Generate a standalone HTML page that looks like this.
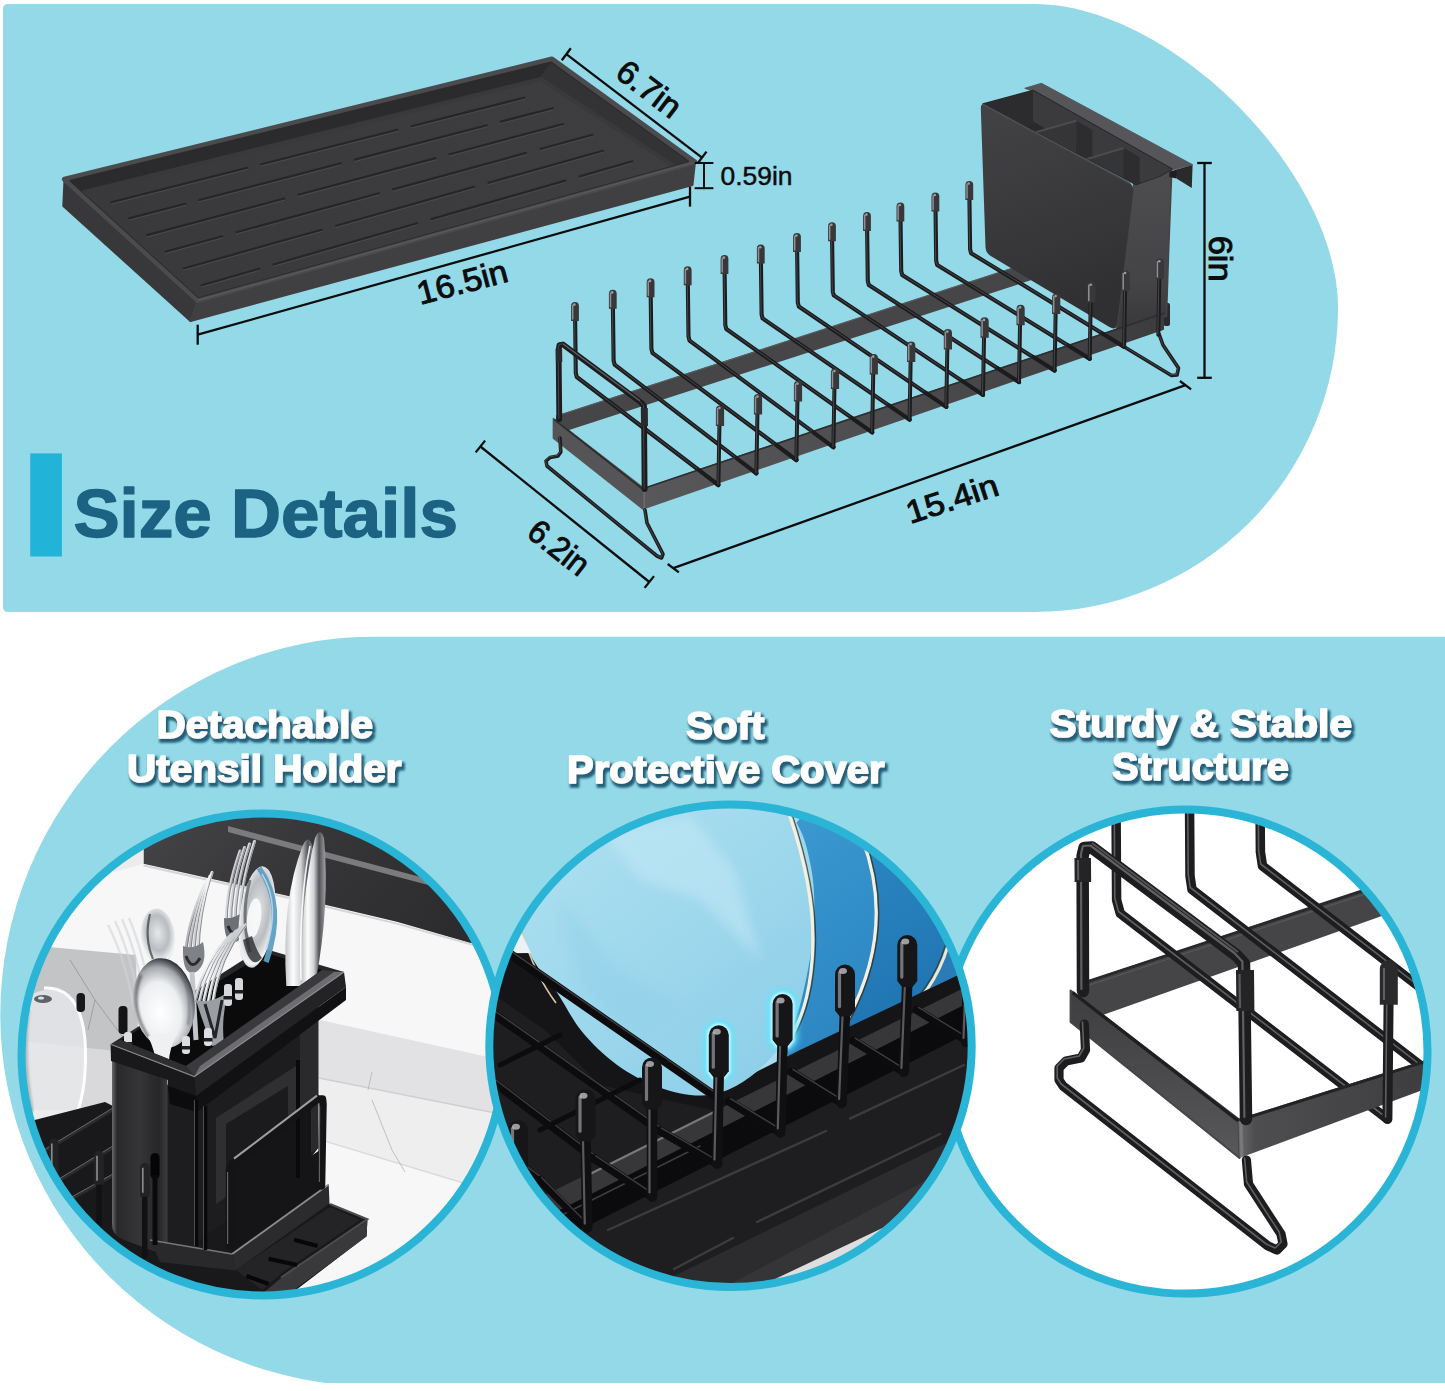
<!DOCTYPE html>
<html lang="en"><head><meta charset="utf-8"><title>Size Details</title>
<style>html,body{margin:0;padding:0;background:#fff}svg{display:block}text{font-family:"Liberation Sans",sans-serif}</style>
</head><body>
<svg width="1445" height="1391" viewBox="0 0 1445 1391">
<defs>
<clipPath id="bp"><rect x="0" y="636.5" width="1445" height="746.5"/></clipPath>
<clipPath id="trayin"><polygon points="70.5,180.8 551,62.5 688,161.3 198.5,297.3"/></clipPath>
<linearGradient id="trayfl" x1="0" y1="0" x2="1" y2="0"><stop offset="0" stop-color="#39393b"/><stop offset="1" stop-color="#3e3e40"/></linearGradient>
<linearGradient id="hface" x1="0" y1="0" x2="0.25" y2="1"><stop offset="0" stop-color="#434345"/><stop offset="0.5" stop-color="#3a3a3c"/><stop offset="1" stop-color="#303032"/></linearGradient>
<linearGradient id="hside" x1="0" y1="0" x2="0" y2="1"><stop offset="0" stop-color="#4d4d4f"/><stop offset="0.7" stop-color="#444446"/><stop offset="1" stop-color="#38383a"/></linearGradient>
<clipPath id="hin"><polygon points="983,104 1033,90.5 1171.8,169 1160,176 1136,184.5"/></clipPath>
<linearGradient id="fband" x1="0" y1="0" x2="1" y2="0"><stop offset="0" stop-color="#58585a"/><stop offset="0.5" stop-color="#4c4c4e"/><stop offset="1" stop-color="#3c3c3e"/></linearGradient>
<filter id="ts" x="-5%" y="-25%" width="110%" height="160%"><feMorphology operator="dilate" radius="0.5" in="SourceAlpha" result="d"/><feGaussianBlur in="d" stdDeviation="1" result="b"/><feOffset in="b" dx="2.2" dy="2.9" result="o"/><feFlood flood-color="#1c5873" flood-opacity="0.95"/><feComposite in2="o" operator="in" result="sh"/><feMerge><feMergeNode in="sh"/><feMergeNode in="SourceGraphic"/></feMerge></filter>
<clipPath id="cc1"><circle cx="262.5" cy="1054.5" r="241.0"/></clipPath>
<filter id="b3" x="-20%" y="-20%" width="140%" height="140%"><feGaussianBlur stdDeviation="3"/></filter>
<filter id="b1" x="-20%" y="-20%" width="140%" height="140%"><feGaussianBlur stdDeviation="1.1"/></filter>
<linearGradient id="c1top" x1="0" y1="0" x2="0" y2="1"><stop offset="0" stop-color="#d4d4d6"/><stop offset="1" stop-color="#6f6f72"/></linearGradient>
<linearGradient id="c1dark" x1="0" y1="0" x2="1" y2="0.4"><stop offset="0" stop-color="#464648"/><stop offset="0.5" stop-color="#363638"/><stop offset="1" stop-color="#2c2c2e"/></linearGradient>
<linearGradient id="chrome" gradientUnits="userSpaceOnUse" x1="180" y1="0" x2="270" y2="0"><stop offset="0" stop-color="#9a9da2"/><stop offset="0.3" stop-color="#f4f5f6"/><stop offset="0.6" stop-color="#c9ccd0"/><stop offset="1" stop-color="#eceef0"/></linearGradient>
<radialGradient id="spoon" cx="0.42" cy="0.6" r="0.62"><stop offset="0" stop-color="#ffffff"/><stop offset="0.55" stop-color="#eceef0"/><stop offset="0.82" stop-color="#a4a7ac"/><stop offset="1" stop-color="#2e3034"/></radialGradient>
<radialGradient id="spoon2" cx="0.5" cy="0.45" r="0.65"><stop offset="0" stop-color="#e6e8ea"/><stop offset="0.5" stop-color="#b9bcc0"/><stop offset="0.8" stop-color="#f2f3f4"/><stop offset="1" stop-color="#3a3c40"/></radialGradient>
<linearGradient id="knife" x1="0" y1="0" x2="1" y2="0"><stop offset="0" stop-color="#c4c6c9"/><stop offset="0.25" stop-color="#fdfdfd"/><stop offset="0.5" stop-color="#d0d2d5"/><stop offset="0.72" stop-color="#505256"/><stop offset="1" stop-color="#a2a4a8"/></linearGradient>
<linearGradient id="hbody" x1="0" y1="0" x2="1" y2="0"><stop offset="0" stop-color="#6a6a6e"/><stop offset="0.09" stop-color="#29292b"/><stop offset="0.5" stop-color="#353537"/><stop offset="0.85" stop-color="#262628"/><stop offset="1" stop-color="#3c3c3f"/></linearGradient>
<clipPath id="utc"><polygon points="0,780 520,780 520,960 322,970 186,1066 121,1040 0,1000"/></clipPath>
<clipPath id="cc3"><circle cx="1185.5" cy="1051.6" r="242.0"/></clipPath>
<linearGradient id="c3lb" x1="0" y1="0" x2="0" y2="1"><stop offset="0" stop-color="#3e3e40"/><stop offset="0.5" stop-color="#4a4a4c"/><stop offset="1" stop-color="#58585a"/></linearGradient>
<linearGradient id="c3fb" x1="0" y1="0" x2="1" y2="0"><stop offset="0" stop-color="#6a6a6d"/><stop offset="0.08" stop-color="#4e4e50"/><stop offset="1" stop-color="#3c3c3e"/></linearGradient>
<clipPath id="cc2"><circle cx="730.5" cy="1045.8" r="241.2"/></clipPath>
<filter id="glow" x="-60%" y="-60%" width="220%" height="220%"><feGaussianBlur stdDeviation="3.2"/></filter>
<filter id="glow2" x="-60%" y="-60%" width="220%" height="220%"><feGaussianBlur stdDeviation="1.2"/></filter>
<filter id="soft" x="-20%" y="-20%" width="140%" height="140%"><feGaussianBlur stdDeviation="6"/></filter>
<linearGradient id="pl1" x1="0.1" y1="0" x2="0.8" y2="1"><stop offset="0" stop-color="#b4e2f1"/><stop offset="0.45" stop-color="#a3daee"/><stop offset="1" stop-color="#8dcfe8"/></linearGradient>
<linearGradient id="pl2" x1="0" y1="0" x2="0.3" y2="1"><stop offset="0" stop-color="#3f9bd2"/><stop offset="1" stop-color="#2b86c2"/></linearGradient>
<linearGradient id="pl3" x1="0" y1="0" x2="0.3" y2="1"><stop offset="0" stop-color="#2f8cc8"/><stop offset="1" stop-color="#1f74b0"/></linearGradient>
</defs>
<rect width="1445" height="1391" fill="#fff"/>
<path d="M8,4 H1034 C1170,4 1338,172 1338,308 A304,304 0 0 1 1034,612 H8 Q3,612 3,607 V9 Q3,4 8,4 Z" fill="#93d9e8"/>
<g clip-path="url(#bp)"><path d="M375.8,636.5 A375.5,378.3 0 0 0 0.3,1014.8 A375.5,371.5 0 0 0 375.8,1386.3 L1445,1386.3 L1445,636.5 Z" fill="#93d9e8"/></g>
<path d="M64.5,179.3 L197.7,300.4 L190.5,321 L63.3,206 Z" fill="#38383a" stroke="#38383a" stroke-width="2" stroke-linejoin="round"/>
<path d="M197.7,300.4 L695,162 L692.5,185 L190.5,321 Z" fill="#404042" stroke="#404042" stroke-width="2" stroke-linejoin="round"/>
<polygon points="64.5,179.3 552,59 695,162 197.7,300.4" fill="#4b4b4d" stroke="#4b4b4d" stroke-width="5" stroke-linejoin="round"/>
<polygon points="70.5,180.8 551,62.5 688,161.3 198.5,297.3" fill="#2b2b2d" stroke="#2b2b2d" stroke-width="2" stroke-linejoin="round"/>
<g clip-path="url(#trayin)">
<polygon points="551,62.5 688,161.3 676,171.3 539,78.5" fill="#333335"/>
<polygon points="73.5,194.8 541,79 679,169.3 198.5,311.3" fill="url(#trayfl)" stroke="#39393b" stroke-width="4" stroke-linejoin="round"/>
<line x1="111.3" y1="203.9" x2="247.3" y2="169.4" stroke="#4a4a4c" stroke-width="1.4" stroke-linecap="round"/>
<line x1="111.3" y1="202.3" x2="247.3" y2="167.8" stroke="#262628" stroke-width="2.2" stroke-linecap="round"/>
<line x1="261.4" y1="165.8" x2="397.4" y2="131.4" stroke="#4a4a4c" stroke-width="1.4" stroke-linecap="round"/>
<line x1="261.4" y1="164.2" x2="397.4" y2="129.8" stroke="#262628" stroke-width="2.2" stroke-linecap="round"/>
<line x1="411.5" y1="127.8" x2="524" y2="99.3" stroke="#4a4a4c" stroke-width="1.4" stroke-linecap="round"/>
<line x1="411.5" y1="126.2" x2="524" y2="97.7" stroke="#262628" stroke-width="2.2" stroke-linecap="round"/>
<line x1="128.9" y1="220" x2="185.4" y2="205.3" stroke="#4a4a4c" stroke-width="1.4" stroke-linecap="round"/>
<line x1="128.9" y1="218.4" x2="185.4" y2="203.7" stroke="#262628" stroke-width="2.2" stroke-linecap="round"/>
<line x1="199.5" y1="201.6" x2="340.8" y2="164.9" stroke="#4a4a4c" stroke-width="1.4" stroke-linecap="round"/>
<line x1="199.5" y1="200" x2="340.8" y2="163.3" stroke="#262628" stroke-width="2.2" stroke-linecap="round"/>
<line x1="354.9" y1="161.2" x2="486.7" y2="126.9" stroke="#4a4a4c" stroke-width="1.4" stroke-linecap="round"/>
<line x1="354.9" y1="159.6" x2="486.7" y2="125.3" stroke="#262628" stroke-width="2.2" stroke-linecap="round"/>
<line x1="500.9" y1="123.2" x2="552.6" y2="109.8" stroke="#4a4a4c" stroke-width="1.4" stroke-linecap="round"/>
<line x1="500.9" y1="121.6" x2="552.6" y2="108.2" stroke="#262628" stroke-width="2.2" stroke-linecap="round"/>
<line x1="147.1" y1="236.7" x2="284.2" y2="200.1" stroke="#4a4a4c" stroke-width="1.4" stroke-linecap="round"/>
<line x1="147.1" y1="235.1" x2="284.2" y2="198.5" stroke="#262628" stroke-width="2.2" stroke-linecap="round"/>
<line x1="298.4" y1="196.3" x2="435.5" y2="159.7" stroke="#4a4a4c" stroke-width="1.4" stroke-linecap="round"/>
<line x1="298.4" y1="194.7" x2="435.5" y2="158.1" stroke="#262628" stroke-width="2.2" stroke-linecap="round"/>
<line x1="449.7" y1="155.9" x2="563.1" y2="125.6" stroke="#4a4a4c" stroke-width="1.4" stroke-linecap="round"/>
<line x1="449.7" y1="154.3" x2="563.1" y2="124" stroke="#262628" stroke-width="2.2" stroke-linecap="round"/>
<line x1="165.4" y1="253.4" x2="222.3" y2="237.8" stroke="#4a4a4c" stroke-width="1.4" stroke-linecap="round"/>
<line x1="165.4" y1="251.8" x2="222.3" y2="236.2" stroke="#262628" stroke-width="2.2" stroke-linecap="round"/>
<line x1="236.5" y1="233.9" x2="378.9" y2="194.9" stroke="#4a4a4c" stroke-width="1.4" stroke-linecap="round"/>
<line x1="236.5" y1="232.3" x2="378.9" y2="193.3" stroke="#262628" stroke-width="2.2" stroke-linecap="round"/>
<line x1="393.2" y1="191" x2="526" y2="154.5" stroke="#4a4a4c" stroke-width="1.4" stroke-linecap="round"/>
<line x1="393.2" y1="189.4" x2="526" y2="152.9" stroke="#262628" stroke-width="2.2" stroke-linecap="round"/>
<line x1="540.3" y1="150.6" x2="592.5" y2="136.3" stroke="#4a4a4c" stroke-width="1.4" stroke-linecap="round"/>
<line x1="540.3" y1="149" x2="592.5" y2="134.7" stroke="#262628" stroke-width="2.2" stroke-linecap="round"/>
<line x1="183.6" y1="270.1" x2="321.7" y2="231.3" stroke="#4a4a4c" stroke-width="1.4" stroke-linecap="round"/>
<line x1="183.6" y1="268.5" x2="321.7" y2="229.7" stroke="#262628" stroke-width="2.2" stroke-linecap="round"/>
<line x1="336" y1="227.3" x2="474.2" y2="188.4" stroke="#4a4a4c" stroke-width="1.4" stroke-linecap="round"/>
<line x1="336" y1="225.7" x2="474.2" y2="186.8" stroke="#262628" stroke-width="2.2" stroke-linecap="round"/>
<line x1="488.5" y1="184.4" x2="602.9" y2="152.3" stroke="#4a4a4c" stroke-width="1.4" stroke-linecap="round"/>
<line x1="488.5" y1="182.8" x2="602.9" y2="150.7" stroke="#262628" stroke-width="2.2" stroke-linecap="round"/>
<line x1="201.8" y1="286.8" x2="259.2" y2="270.3" stroke="#4a4a4c" stroke-width="1.4" stroke-linecap="round"/>
<line x1="201.8" y1="285.2" x2="259.2" y2="268.7" stroke="#262628" stroke-width="2.2" stroke-linecap="round"/>
<line x1="273.5" y1="266.1" x2="417.1" y2="224.8" stroke="#4a4a4c" stroke-width="1.4" stroke-linecap="round"/>
<line x1="273.5" y1="264.5" x2="417.1" y2="223.2" stroke="#262628" stroke-width="2.2" stroke-linecap="round"/>
<line x1="431.4" y1="220.7" x2="565.3" y2="182.2" stroke="#4a4a4c" stroke-width="1.4" stroke-linecap="round"/>
<line x1="431.4" y1="219.1" x2="565.3" y2="180.6" stroke="#262628" stroke-width="2.2" stroke-linecap="round"/>
<line x1="579.7" y1="178" x2="632.3" y2="162.9" stroke="#4a4a4c" stroke-width="1.4" stroke-linecap="round"/>
<line x1="579.7" y1="176.4" x2="632.3" y2="161.3" stroke="#262628" stroke-width="2.2" stroke-linecap="round"/>
</g>
<polyline points="197.7,300.4 695,162" fill="none" stroke="#5a5a5c" stroke-width="1.2"/>
<polygon points="556,415.8 1050,255.5 1050,274 556,434.3" fill="#464547"/>
<line x1="556" y1="416.3" x2="1050" y2="256" stroke="#5a5a5c" stroke-width="1.2"/>
<polyline points="1159,334 1163,345 1178.5,368 1177,375 1171.5,375.5 1122,345.5" fill="none" stroke="#1c1c1e" stroke-width="3.6" stroke-linejoin="round" stroke-linecap="round"/>
<polyline points="1158.5,333.4 1162.5,344.4 1178,367.4 1176.5,374.4 1171,374.9 1121.5,344.9" fill="none" stroke="#7d7d80" stroke-width="0.9" stroke-linejoin="round" stroke-linecap="round" opacity="0.5"/>
<rect x="1163.5" y="303" width="6.5" height="23" rx="2" fill="#2a2a2c"/>
<polygon points="1133.6,184.6 1171.8,170 1168.5,255 1166.5,316 1150,322 1116.4,331.2" fill="url(#hside)" stroke="#444446" stroke-width="1.5" stroke-linejoin="round"/>
<polygon points="1175,170 1192.6,164.7 1191.8,188 1176.5,178.5" fill="#2a2a2c"/>
<polygon points="1169.5,172 1176.5,169.5 1176.5,178.5 1169.3,177" fill="#1e1e20"/>
<polygon points="1024.8,88.3 1041.4,83.3 1192.6,164.7 1171.8,170 1033,91" fill="#56565a" stroke="#56565a" stroke-width="1" stroke-linejoin="round"/>
<polygon points="983,104 1033,90.5 1171.8,169 1160,176 1136,184.5" fill="#29292b" stroke="#29292b" stroke-width="1.5" stroke-linejoin="round"/>
<g clip-path="url(#hin)">
<polygon points="1033,90.5 1171.8,169 1171.8,200 1033,121.5" fill="#3b3b3d"/>
<polygon points="983,104 1033,90.5 1033,125 983,138.5" fill="#2c2c2e"/>
<polygon points="1035.6,132.3 1076.3,120.7 1076.3,162.7 1035.6,174.3" fill="#353537"/>
<polygon points="1076.3,120.7 1092.3,130 1092.3,170.7 1076.3,162.7" fill="#2d2d2f"/>
<line x1="1035.6" y1="132.3" x2="1076.3" y2="120.7" stroke="#4c4c4e" stroke-width="2"/>
<polygon points="1084.6,159.7 1123.7,148 1123.7,190 1084.6,201.7" fill="#353537"/>
<polygon points="1123.7,148 1139.7,157.3 1139.7,198 1123.7,190" fill="#2d2d2f"/>
<line x1="1084.6" y1="159.7" x2="1123.7" y2="148" stroke="#4c4c4e" stroke-width="2"/>
</g>
<path d="M980.8,108.4 Q980.8,102.4 985.8,105.2 L1128.6,181.9 Q1133.6,184.6 1133.2,191.6 L1117.2,323.2 Q1116.4,331.2 1109.4,327 L990.7,256 Q985.7,253 985.5,247 Z" fill="url(#hface)"/>
<path d="M982.8,104.4 L1129.6,183.1" fill="none" stroke="#505052" stroke-width="1.2"/>
<polyline points="575,310 575.8,373 576.8,377 718.4,485" fill="none" stroke="#1c1c1e" stroke-width="4.1" stroke-linejoin="round" stroke-linecap="round"/>
<polyline points="574.5,309.4 575.3,372.4 576.3,376.4 717.9,484.4" fill="none" stroke="#7d7d80" stroke-width="0.9" stroke-linejoin="round" stroke-linecap="round" opacity="0.5"/>
<path d="M571.1,321 V305.9 A3.9,3.9 0 0 1 578.9,305.9 V321 Z" fill="#38383a"/>
<path d="M572.7,319 V305.2" stroke="#a0a0a4" stroke-width="1.5" stroke-linecap="round" fill="none" opacity="0.85"/>
<circle cx="574.4" cy="304.6" r="1.3" fill="#b5b5b8" opacity="0.8"/>
<polyline points="612.8,297.8 613.6,360.6 614.6,364.6 756.4,473.3" fill="none" stroke="#1c1c1e" stroke-width="4.1" stroke-linejoin="round" stroke-linecap="round"/>
<polyline points="612.3,297.2 613.1,359.9 614.1,363.9 755.9,472.7" fill="none" stroke="#7d7d80" stroke-width="0.9" stroke-linejoin="round" stroke-linecap="round" opacity="0.5"/>
<path d="M608.9,308.8 V293.7 A3.9,3.9 0 0 1 616.7,293.7 V308.8 Z" fill="#38383a"/>
<path d="M610.5,306.8 V293" stroke="#a0a0a4" stroke-width="1.5" stroke-linecap="round" fill="none" opacity="0.85"/>
<circle cx="612.2" cy="292.4" r="1.3" fill="#b5b5b8" opacity="0.8"/>
<polyline points="650.6,286.3 651.4,348.8 652.4,352.8 796.4,460" fill="none" stroke="#1c1c1e" stroke-width="4.1" stroke-linejoin="round" stroke-linecap="round"/>
<polyline points="650.1,285.7 650.9,348.2 651.9,352.2 795.9,459.4" fill="none" stroke="#7d7d80" stroke-width="0.9" stroke-linejoin="round" stroke-linecap="round" opacity="0.5"/>
<path d="M646.7,297.3 V282.2 A3.9,3.9 0 0 1 654.5,282.2 V297.3 Z" fill="#38383a"/>
<path d="M648.3,295.3 V281.5" stroke="#a0a0a4" stroke-width="1.5" stroke-linecap="round" fill="none" opacity="0.85"/>
<circle cx="650" cy="280.9" r="1.3" fill="#b5b5b8" opacity="0.8"/>
<polyline points="687.7,274.3 688.5,336.6 689.5,340.6 833.4,447.2" fill="none" stroke="#1c1c1e" stroke-width="4.1" stroke-linejoin="round" stroke-linecap="round"/>
<polyline points="687.2,273.7 688,335.9 689,339.9 832.9,446.6" fill="none" stroke="#7d7d80" stroke-width="0.9" stroke-linejoin="round" stroke-linecap="round" opacity="0.5"/>
<path d="M683.8,285.3 V270.2 A3.9,3.9 0 0 1 691.6,270.2 V285.3 Z" fill="#38383a"/>
<path d="M685.4,283.3 V269.5" stroke="#a0a0a4" stroke-width="1.5" stroke-linecap="round" fill="none" opacity="0.85"/>
<circle cx="687.1" cy="268.9" r="1.3" fill="#b5b5b8" opacity="0.8"/>
<polyline points="724.5,263 725.3,325 726.3,329 872.2,432.4" fill="none" stroke="#1c1c1e" stroke-width="4.1" stroke-linejoin="round" stroke-linecap="round"/>
<polyline points="724,262.4 724.8,324.4 725.8,328.4 871.7,431.8" fill="none" stroke="#7d7d80" stroke-width="0.9" stroke-linejoin="round" stroke-linecap="round" opacity="0.5"/>
<path d="M720.6,274 V258.9 A3.9,3.9 0 0 1 728.4,258.9 V274 Z" fill="#38383a"/>
<path d="M722.2,272 V258.2" stroke="#a0a0a4" stroke-width="1.5" stroke-linecap="round" fill="none" opacity="0.85"/>
<circle cx="723.9" cy="257.6" r="1.3" fill="#b5b5b8" opacity="0.8"/>
<polyline points="760.8,252.6 761.6,314.4 762.6,318.4 909.6,419.6" fill="none" stroke="#1c1c1e" stroke-width="4.1" stroke-linejoin="round" stroke-linecap="round"/>
<polyline points="760.3,252 761.1,313.8 762.1,317.8 909.1,419" fill="none" stroke="#7d7d80" stroke-width="0.9" stroke-linejoin="round" stroke-linecap="round" opacity="0.5"/>
<path d="M756.9,263.6 V248.5 A3.9,3.9 0 0 1 764.7,248.5 V263.6 Z" fill="#38383a"/>
<path d="M758.5,261.6 V247.8" stroke="#a0a0a4" stroke-width="1.5" stroke-linecap="round" fill="none" opacity="0.85"/>
<circle cx="760.2" cy="247.2" r="1.3" fill="#b5b5b8" opacity="0.8"/>
<polyline points="797,241 797.8,302.5 798.8,306.5 946.3,406.9" fill="none" stroke="#1c1c1e" stroke-width="4.1" stroke-linejoin="round" stroke-linecap="round"/>
<polyline points="796.5,240.4 797.3,301.9 798.3,305.9 945.8,406.2" fill="none" stroke="#7d7d80" stroke-width="0.9" stroke-linejoin="round" stroke-linecap="round" opacity="0.5"/>
<path d="M793.1,252 V236.9 A3.9,3.9 0 0 1 800.9,236.9 V252 Z" fill="#38383a"/>
<path d="M794.7,250 V236.2" stroke="#a0a0a4" stroke-width="1.5" stroke-linecap="round" fill="none" opacity="0.85"/>
<circle cx="796.4" cy="235.6" r="1.3" fill="#b5b5b8" opacity="0.8"/>
<polyline points="832,230.2 832.8,291.4 833.8,295.4 983,394.9" fill="none" stroke="#1c1c1e" stroke-width="4.1" stroke-linejoin="round" stroke-linecap="round"/>
<polyline points="831.5,229.6 832.3,290.8 833.3,294.8 982.5,394.3" fill="none" stroke="#7d7d80" stroke-width="0.9" stroke-linejoin="round" stroke-linecap="round" opacity="0.5"/>
<path d="M828.1,241.2 V226.1 A3.9,3.9 0 0 1 835.9,226.1 V241.2 Z" fill="#38383a"/>
<path d="M829.7,239.2 V225.4" stroke="#a0a0a4" stroke-width="1.5" stroke-linecap="round" fill="none" opacity="0.85"/>
<circle cx="831.4" cy="224.8" r="1.3" fill="#b5b5b8" opacity="0.8"/>
<polyline points="867,220 867.8,281 868.8,285 1019,382.1" fill="none" stroke="#1c1c1e" stroke-width="4.1" stroke-linejoin="round" stroke-linecap="round"/>
<polyline points="866.5,219.4 867.3,280.4 868.3,284.4 1018.5,381.5" fill="none" stroke="#7d7d80" stroke-width="0.9" stroke-linejoin="round" stroke-linecap="round" opacity="0.5"/>
<path d="M863.1,231 V215.9 A3.9,3.9 0 0 1 870.9,215.9 V231 Z" fill="#38383a"/>
<path d="M864.7,229 V215.2" stroke="#a0a0a4" stroke-width="1.5" stroke-linecap="round" fill="none" opacity="0.85"/>
<circle cx="866.4" cy="214.6" r="1.3" fill="#b5b5b8" opacity="0.8"/>
<polyline points="900.4,210.4 901.2,271.1 902.2,275.1 1054.6,370.5" fill="none" stroke="#1c1c1e" stroke-width="4.1" stroke-linejoin="round" stroke-linecap="round"/>
<polyline points="899.9,209.8 900.7,270.5 901.7,274.5 1054.1,369.9" fill="none" stroke="#7d7d80" stroke-width="0.9" stroke-linejoin="round" stroke-linecap="round" opacity="0.5"/>
<path d="M896.5,221.4 V206.3 A3.9,3.9 0 0 1 904.3,206.3 V221.4 Z" fill="#38383a"/>
<path d="M898.1,219.4 V205.6" stroke="#a0a0a4" stroke-width="1.5" stroke-linecap="round" fill="none" opacity="0.85"/>
<circle cx="899.8" cy="205" r="1.3" fill="#b5b5b8" opacity="0.8"/>
<polyline points="935.4,200.4 936.2,260.9 937.2,264.9 1089.7,358.8" fill="none" stroke="#1c1c1e" stroke-width="4.1" stroke-linejoin="round" stroke-linecap="round"/>
<polyline points="934.9,199.8 935.7,260.3 936.7,264.3 1089.2,358.2" fill="none" stroke="#7d7d80" stroke-width="0.9" stroke-linejoin="round" stroke-linecap="round" opacity="0.5"/>
<path d="M931.5,211.4 V196.3 A3.9,3.9 0 0 1 939.3,196.3 V211.4 Z" fill="#38383a"/>
<path d="M933.1,209.4 V195.6" stroke="#a0a0a4" stroke-width="1.5" stroke-linecap="round" fill="none" opacity="0.85"/>
<circle cx="934.8" cy="195" r="1.3" fill="#b5b5b8" opacity="0.8"/>
<polyline points="969.3,188.9 970.1,249.2 971.1,253.2 1124.1,346.8" fill="none" stroke="#1c1c1e" stroke-width="4.1" stroke-linejoin="round" stroke-linecap="round"/>
<polyline points="968.8,188.3 969.6,248.6 970.6,252.6 1123.6,346.2" fill="none" stroke="#7d7d80" stroke-width="0.9" stroke-linejoin="round" stroke-linecap="round" opacity="0.5"/>
<path d="M965.4,199.9 V184.8 A3.9,3.9 0 0 1 973.2,184.8 V199.9 Z" fill="#38383a"/>
<path d="M967,197.9 V184.1" stroke="#a0a0a4" stroke-width="1.5" stroke-linecap="round" fill="none" opacity="0.85"/>
<circle cx="968.7" cy="183.5" r="1.3" fill="#b5b5b8" opacity="0.8"/>
<polygon points="643.4,487.9 1164,312.7 1164,329.7 643.4,509.4" fill="url(#fband)"/>
<line x1="643.4" y1="488.5" x2="1164" y2="313.3" stroke="#2e2e30" stroke-width="1.6"/>
<polyline points="698.6,469.9 718.4,485" fill="none" stroke="#1c1c1e" stroke-width="4.1" stroke-linejoin="round" stroke-linecap="round"/>
<polyline points="718.4,485 719.6,415.4" fill="none" stroke="#1c1c1e" stroke-width="4.0" stroke-linejoin="round" stroke-linecap="round"/>
<polyline points="717.9,484.4 719.1,414.8" fill="none" stroke="#7d7d80" stroke-width="0.9" stroke-linejoin="round" stroke-linecap="round" opacity="0.5"/>
<path d="M715.9,425.9 V409.5 A4.1,4.1 0 0 1 724.1,409.5 V425.9 Z" fill="#38383a"/>
<path d="M717.5,423.9 V408.6" stroke="#a0a0a4" stroke-width="1.5" stroke-linecap="round" fill="none" opacity="0.85"/>
<circle cx="719.4" cy="408" r="1.3" fill="#b5b5b8" opacity="0.8"/>
<polyline points="736.5,458.1 756.4,473.3" fill="none" stroke="#1c1c1e" stroke-width="4.1" stroke-linejoin="round" stroke-linecap="round"/>
<polyline points="756.4,473.3 757.6,404" fill="none" stroke="#1c1c1e" stroke-width="4.0" stroke-linejoin="round" stroke-linecap="round"/>
<polyline points="755.9,472.7 757.1,403.4" fill="none" stroke="#7d7d80" stroke-width="0.9" stroke-linejoin="round" stroke-linecap="round" opacity="0.5"/>
<path d="M753.9,414.5 V398.1 A4.1,4.1 0 0 1 762.1,398.1 V414.5 Z" fill="#38383a"/>
<path d="M755.5,412.5 V397.2" stroke="#a0a0a4" stroke-width="1.5" stroke-linecap="round" fill="none" opacity="0.85"/>
<circle cx="757.4" cy="396.6" r="1.3" fill="#b5b5b8" opacity="0.8"/>
<polyline points="776.2,445 796.4,460" fill="none" stroke="#1c1c1e" stroke-width="4.1" stroke-linejoin="round" stroke-linecap="round"/>
<polyline points="796.4,460 797.6,391" fill="none" stroke="#1c1c1e" stroke-width="4.0" stroke-linejoin="round" stroke-linecap="round"/>
<polyline points="795.9,459.4 797.1,390.4" fill="none" stroke="#7d7d80" stroke-width="0.9" stroke-linejoin="round" stroke-linecap="round" opacity="0.5"/>
<path d="M793.9,401.5 V385.1 A4.1,4.1 0 0 1 802.1,385.1 V401.5 Z" fill="#38383a"/>
<path d="M795.5,399.5 V384.2" stroke="#a0a0a4" stroke-width="1.5" stroke-linecap="round" fill="none" opacity="0.85"/>
<circle cx="797.4" cy="383.6" r="1.3" fill="#b5b5b8" opacity="0.8"/>
<polyline points="813.3,432.3 833.4,447.2" fill="none" stroke="#1c1c1e" stroke-width="4.1" stroke-linejoin="round" stroke-linecap="round"/>
<polyline points="833.4,447.2 834.6,378.5" fill="none" stroke="#1c1c1e" stroke-width="4.0" stroke-linejoin="round" stroke-linecap="round"/>
<polyline points="832.9,446.6 834.1,377.9" fill="none" stroke="#7d7d80" stroke-width="0.9" stroke-linejoin="round" stroke-linecap="round" opacity="0.5"/>
<path d="M830.9,389 V372.6 A4.1,4.1 0 0 1 839.1,372.6 V389 Z" fill="#38383a"/>
<path d="M832.5,387 V371.7" stroke="#a0a0a4" stroke-width="1.5" stroke-linecap="round" fill="none" opacity="0.85"/>
<circle cx="834.4" cy="371.1" r="1.3" fill="#b5b5b8" opacity="0.8"/>
<polyline points="851.8,418 872.2,432.4" fill="none" stroke="#1c1c1e" stroke-width="4.1" stroke-linejoin="round" stroke-linecap="round"/>
<polyline points="872.2,432.4 873.4,364" fill="none" stroke="#1c1c1e" stroke-width="4.0" stroke-linejoin="round" stroke-linecap="round"/>
<polyline points="871.7,431.8 872.9,363.4" fill="none" stroke="#7d7d80" stroke-width="0.9" stroke-linejoin="round" stroke-linecap="round" opacity="0.5"/>
<path d="M869.7,374.5 V358.1 A4.1,4.1 0 0 1 877.9,358.1 V374.5 Z" fill="#38383a"/>
<path d="M871.3,372.5 V357.2" stroke="#a0a0a4" stroke-width="1.5" stroke-linecap="round" fill="none" opacity="0.85"/>
<circle cx="873.2" cy="356.6" r="1.3" fill="#b5b5b8" opacity="0.8"/>
<polyline points="889,405.5 909.6,419.6" fill="none" stroke="#1c1c1e" stroke-width="4.1" stroke-linejoin="round" stroke-linecap="round"/>
<polyline points="909.6,419.6 910.8,351.5" fill="none" stroke="#1c1c1e" stroke-width="4.0" stroke-linejoin="round" stroke-linecap="round"/>
<polyline points="909.1,419 910.3,350.9" fill="none" stroke="#7d7d80" stroke-width="0.9" stroke-linejoin="round" stroke-linecap="round" opacity="0.5"/>
<path d="M907.1,362 V345.6 A4.1,4.1 0 0 1 915.3,345.6 V362 Z" fill="#38383a"/>
<path d="M908.7,360 V344.7" stroke="#a0a0a4" stroke-width="1.5" stroke-linecap="round" fill="none" opacity="0.85"/>
<circle cx="910.6" cy="344.1" r="1.3" fill="#b5b5b8" opacity="0.8"/>
<polyline points="925.6,392.8 946.3,406.9" fill="none" stroke="#1c1c1e" stroke-width="4.1" stroke-linejoin="round" stroke-linecap="round"/>
<polyline points="946.3,406.9 947.5,339" fill="none" stroke="#1c1c1e" stroke-width="4.0" stroke-linejoin="round" stroke-linecap="round"/>
<polyline points="945.8,406.2 947,338.4" fill="none" stroke="#7d7d80" stroke-width="0.9" stroke-linejoin="round" stroke-linecap="round" opacity="0.5"/>
<path d="M943.8,349.5 V333.1 A4.1,4.1 0 0 1 952,333.1 V349.5 Z" fill="#38383a"/>
<path d="M945.4,347.5 V332.2" stroke="#a0a0a4" stroke-width="1.5" stroke-linecap="round" fill="none" opacity="0.85"/>
<circle cx="947.3" cy="331.6" r="1.3" fill="#b5b5b8" opacity="0.8"/>
<polyline points="962.1,380.9 983,394.9" fill="none" stroke="#1c1c1e" stroke-width="4.1" stroke-linejoin="round" stroke-linecap="round"/>
<polyline points="983,394.9 984.2,327.3" fill="none" stroke="#1c1c1e" stroke-width="4.0" stroke-linejoin="round" stroke-linecap="round"/>
<polyline points="982.5,394.3 983.7,326.7" fill="none" stroke="#7d7d80" stroke-width="0.9" stroke-linejoin="round" stroke-linecap="round" opacity="0.5"/>
<path d="M980.5,337.8 V321.4 A4.1,4.1 0 0 1 988.7,321.4 V337.8 Z" fill="#38383a"/>
<path d="M982.1,335.8 V320.5" stroke="#a0a0a4" stroke-width="1.5" stroke-linecap="round" fill="none" opacity="0.85"/>
<circle cx="984" cy="319.9" r="1.3" fill="#b5b5b8" opacity="0.8"/>
<polyline points="998,368.5 1019,382.1" fill="none" stroke="#1c1c1e" stroke-width="4.1" stroke-linejoin="round" stroke-linecap="round"/>
<polyline points="1019,382.1 1020.2,314.8" fill="none" stroke="#1c1c1e" stroke-width="4.0" stroke-linejoin="round" stroke-linecap="round"/>
<polyline points="1018.5,381.5 1019.7,314.2" fill="none" stroke="#7d7d80" stroke-width="0.9" stroke-linejoin="round" stroke-linecap="round" opacity="0.5"/>
<path d="M1016.5,325.3 V308.9 A4.1,4.1 0 0 1 1024.7,308.9 V325.3 Z" fill="#38383a"/>
<path d="M1018.1,323.3 V308" stroke="#a0a0a4" stroke-width="1.5" stroke-linecap="round" fill="none" opacity="0.85"/>
<circle cx="1020" cy="307.4" r="1.3" fill="#b5b5b8" opacity="0.8"/>
<polyline points="1033.3,357.1 1054.6,370.5" fill="none" stroke="#1c1c1e" stroke-width="4.1" stroke-linejoin="round" stroke-linecap="round"/>
<polyline points="1054.6,370.5 1055.8,303.5" fill="none" stroke="#1c1c1e" stroke-width="4.0" stroke-linejoin="round" stroke-linecap="round"/>
<polyline points="1054.1,369.9 1055.3,302.9" fill="none" stroke="#7d7d80" stroke-width="0.9" stroke-linejoin="round" stroke-linecap="round" opacity="0.5"/>
<path d="M1052.1,314 V297.6 A4.1,4.1 0 0 1 1060.3,297.6 V314 Z" fill="#38383a"/>
<path d="M1053.7,312 V296.7" stroke="#a0a0a4" stroke-width="1.5" stroke-linecap="round" fill="none" opacity="0.85"/>
<circle cx="1055.6" cy="296.1" r="1.3" fill="#b5b5b8" opacity="0.8"/>
<polyline points="1068.3,345.6 1089.7,358.8" fill="none" stroke="#1c1c1e" stroke-width="4.1" stroke-linejoin="round" stroke-linecap="round"/>
<polyline points="1089.7,358.8 1090.9,292.1" fill="none" stroke="#1c1c1e" stroke-width="4.0" stroke-linejoin="round" stroke-linecap="round"/>
<polyline points="1089.2,358.2 1090.4,291.5" fill="none" stroke="#7d7d80" stroke-width="0.9" stroke-linejoin="round" stroke-linecap="round" opacity="0.5"/>
<path d="M1087.2,302.6 V286.2 A4.1,4.1 0 0 1 1095.4,286.2 V302.6 Z" fill="#38383a"/>
<path d="M1088.8,300.6 V285.3" stroke="#a0a0a4" stroke-width="1.5" stroke-linecap="round" fill="none" opacity="0.85"/>
<circle cx="1090.7" cy="284.7" r="1.3" fill="#b5b5b8" opacity="0.8"/>
<polyline points="1102.7,333.7 1124.1,346.8" fill="none" stroke="#1c1c1e" stroke-width="4.1" stroke-linejoin="round" stroke-linecap="round"/>
<polyline points="1124.1,346.8 1125.3,280.4" fill="none" stroke="#1c1c1e" stroke-width="4.0" stroke-linejoin="round" stroke-linecap="round"/>
<polyline points="1123.6,346.2 1124.8,279.8" fill="none" stroke="#7d7d80" stroke-width="0.9" stroke-linejoin="round" stroke-linecap="round" opacity="0.5"/>
<path d="M1121.6,290.9 V274.5 A4.1,4.1 0 0 1 1129.8,274.5 V290.9 Z" fill="#38383a"/>
<path d="M1123.2,288.9 V273.6" stroke="#a0a0a4" stroke-width="1.5" stroke-linecap="round" fill="none" opacity="0.85"/>
<circle cx="1125.1" cy="273" r="1.3" fill="#b5b5b8" opacity="0.8"/>
<polyline points="1158.3,334.7 1159.5,268.6" fill="none" stroke="#1c1c1e" stroke-width="4.0" stroke-linejoin="round" stroke-linecap="round"/>
<polyline points="1157.8,334.1 1159,268" fill="none" stroke="#7d7d80" stroke-width="0.9" stroke-linejoin="round" stroke-linecap="round" opacity="0.5"/>
<path d="M1155.8,279.1 V262.7 A4.1,4.1 0 0 1 1164,262.7 V279.1 Z" fill="#38383a"/>
<path d="M1157.4,277.1 V261.8" stroke="#a0a0a4" stroke-width="1.5" stroke-linecap="round" fill="none" opacity="0.85"/>
<circle cx="1159.3" cy="261.2" r="1.3" fill="#b5b5b8" opacity="0.8"/>
<polygon points="553.4,418.6 644.2,488.5 644.2,510 553.4,438.1" fill="#555557" stroke="#555557" stroke-width="1.5" stroke-linejoin="round"/>
<line x1="554.4" y1="419.6" x2="643.2" y2="489.5" stroke="#2c2c2e" stroke-width="1.8"/>
<line x1="644.2" y1="488.5" x2="644.2" y2="510" stroke="#707073" stroke-width="1.3"/>
<polyline points="559.3,419 558.6,350 559.5,345 563,344.5 641,402.5 644,406 644.6,489" fill="none" stroke="#1c1c1e" stroke-width="5.8" stroke-linejoin="round" stroke-linecap="round"/>
<polyline points="558.8,418.4 558.1,349.4 559,344.4 562.5,343.9 640.5,401.9 643.5,405.4 644.1,488.4" fill="none" stroke="#7d7d80" stroke-width="0.9" stroke-linejoin="round" stroke-linecap="round" opacity="0.5"/>
<line x1="558.9" y1="349" x2="559.1" y2="362" stroke="#2a2a2c" stroke-width="6.4"/>
<line x1="644.3" y1="408" x2="644.5" y2="426" stroke="#2a2a2c" stroke-width="7"/>
<line x1="563" y1="343.6" x2="640" y2="400.6" stroke="#8a8a8d" stroke-width="1.1" opacity="0.6"/>
<polyline points="560,438 560.8,452 558,456 550,457.5 546,461 547,466 657,556 661.5,558 663,554 647,523 645,510" fill="none" stroke="#1c1c1e" stroke-width="3.6" stroke-linejoin="round" stroke-linecap="round"/>
<polyline points="559.5,437.4 560.3,451.4 557.5,455.4 549.5,456.9 545.5,460.4 546.5,465.4 656.5,555.4 661,557.4 662.5,553.4 646.5,522.4 644.5,509.4" fill="none" stroke="#7d7d80" stroke-width="0.9" stroke-linejoin="round" stroke-linecap="round" opacity="0.5"/>
<line x1="566.3" y1="54.2" x2="702" y2="157.6" stroke="#0c0c0c" stroke-width="2.3"/>
<line x1="570.8" y1="48.2" x2="561.8" y2="60.2" stroke="#0c0c0c" stroke-width="2.3"/>
<line x1="706.5" y1="151.6" x2="697.5" y2="163.6" stroke="#0c0c0c" stroke-width="2.3"/>
<text transform="translate(642.3,97.8) rotate(37.3) scale(1.015,1)" x="0" y="0" text-anchor="middle" font-family="'Liberation Sans',sans-serif" font-size="32.7" font-weight="400" fill="#0c0c0c" stroke="#0c0c0c" stroke-width="0.95">6.7in</text>
<line x1="704" y1="163" x2="704" y2="188.2" stroke="#0c0c0c" stroke-width="2"/>
<line x1="713.4" y1="163" x2="694.6" y2="163" stroke="#0c0c0c" stroke-width="2"/>
<line x1="713.4" y1="188.2" x2="694.6" y2="188.2" stroke="#0c0c0c" stroke-width="2"/>
<text transform="translate(756.5,184.6) rotate(0) scale(1.057,1)" x="0" y="0" text-anchor="middle" font-family="'Liberation Sans',sans-serif" font-size="25" font-weight="400" fill="#0c0c0c" stroke="#0c0c0c" stroke-width="0.45">0.59in</text>
<line x1="197.7" y1="334.7" x2="690" y2="196.6" stroke="#0c0c0c" stroke-width="2.3"/>
<line x1="197.7" y1="324.7" x2="197.7" y2="344.7" stroke="#0c0c0c" stroke-width="2.3"/>
<line x1="690" y1="186.6" x2="690" y2="206.6" stroke="#0c0c0c" stroke-width="2.3"/>
<text transform="translate(465,292.9) rotate(-14.7) scale(1.045,1)" x="0" y="0" text-anchor="middle" font-family="'Liberation Sans',sans-serif" font-size="32.5" font-weight="400" fill="#0c0c0c" stroke="#0c0c0c" stroke-width="0.95">16.5in</text>
<line x1="480.4" y1="446.5" x2="649.3" y2="582" stroke="#0c0c0c" stroke-width="2.3"/>
<line x1="485.1" y1="440.6" x2="475.7" y2="452.4" stroke="#0c0c0c" stroke-width="2.3"/>
<line x1="654" y1="576.1" x2="644.6" y2="587.9" stroke="#0c0c0c" stroke-width="2.3"/>
<text transform="translate(551.9,556.5) rotate(38) scale(0.950,1)" x="0" y="0" text-anchor="middle" font-family="'Liberation Sans',sans-serif" font-size="33" font-weight="400" fill="#0c0c0c" stroke="#0c0c0c" stroke-width="0.95">6.2in</text>
<line x1="673.3" y1="568.2" x2="1185.5" y2="385.2" stroke="#0c0c0c" stroke-width="2.3"/>
<line x1="667.7" y1="564" x2="678.9" y2="572.4" stroke="#0c0c0c" stroke-width="2.3"/>
<line x1="1179.9" y1="381" x2="1191.1" y2="389.4" stroke="#0c0c0c" stroke-width="2.3"/>
<text transform="translate(955.5,509.2) rotate(-18.1) scale(1.090,1)" x="0" y="0" text-anchor="middle" font-family="'Liberation Sans',sans-serif" font-size="32" font-weight="400" fill="#0c0c0c" stroke="#0c0c0c" stroke-width="0.95">15.4in</text>
<line x1="1204.5" y1="163" x2="1204.5" y2="377.8" stroke="#0c0c0c" stroke-width="2.3"/>
<line x1="1211.8" y1="163" x2="1197.2" y2="163" stroke="#0c0c0c" stroke-width="2.3"/>
<line x1="1211.8" y1="377.8" x2="1197.2" y2="377.8" stroke="#0c0c0c" stroke-width="2.3"/>
<text transform="translate(1208.6,258.7) rotate(90) scale(1.054,1)" x="0" y="0" text-anchor="middle" font-family="'Liberation Sans',sans-serif" font-size="32.7" font-weight="400" fill="#0c0c0c" stroke="#0c0c0c" stroke-width="0.95">6in</text>
<rect x="30.2" y="453.4" width="31.7" height="103.1" fill="#22b4d8"/>
<text x="73.4" y="536.6" font-family="'Liberation Sans',sans-serif" font-weight="700" font-size="68" fill="#1b6283" stroke="#1b6283" stroke-width="1.3" stroke-linejoin="round" textLength="384.5" lengthAdjust="spacingAndGlyphs">Size Details</text>
<text x="156.5" y="738.2" font-family="'Liberation Sans',sans-serif" font-weight="700" font-size="39.5" textLength="216.5" lengthAdjust="spacingAndGlyphs" fill="#fff" stroke="#fff" stroke-width="1.6" stroke-linejoin="round" filter="url(#ts)">Detachable</text>
<text x="127" y="782.2" font-family="'Liberation Sans',sans-serif" font-weight="700" font-size="39.5" textLength="274.5" lengthAdjust="spacingAndGlyphs" fill="#fff" stroke="#fff" stroke-width="1.6" stroke-linejoin="round" filter="url(#ts)">Utensil Holder</text>
<text x="686" y="738.7" font-family="'Liberation Sans',sans-serif" font-weight="700" font-size="39.5" textLength="78.5" lengthAdjust="spacingAndGlyphs" fill="#fff" stroke="#fff" stroke-width="1.6" stroke-linejoin="round" filter="url(#ts)">Soft</text>
<text x="567" y="782.7" font-family="'Liberation Sans',sans-serif" font-weight="700" font-size="39.5" textLength="317.5" lengthAdjust="spacingAndGlyphs" fill="#fff" stroke="#fff" stroke-width="1.6" stroke-linejoin="round" filter="url(#ts)">Protective Cover</text>
<text x="1049.5" y="736.6" font-family="'Liberation Sans',sans-serif" font-weight="700" font-size="39.5" textLength="302.5" lengthAdjust="spacingAndGlyphs" fill="#fff" stroke="#fff" stroke-width="1.6" stroke-linejoin="round" filter="url(#ts)">Sturdy &amp; Stable</text>
<text x="1112" y="780.1" font-family="'Liberation Sans',sans-serif" font-weight="700" font-size="39.5" textLength="177" lengthAdjust="spacingAndGlyphs" fill="#fff" stroke="#fff" stroke-width="1.6" stroke-linejoin="round" filter="url(#ts)">Structure</text>
<g clip-path="url(#cc1)"><rect x="17.5" y="809.5" width="490" height="490" fill="#d8dadd"/>
<rect x="15" y="805" width="505" height="500" fill="#f7f7f8"/>
<polygon points="143.5,800 520,800 520,955 468.8,942.6 396.8,921.8 286,895.5 143.5,863.7" fill="url(#c1dark)"/>
<polygon points="228,826 421.7,877.3 520,903 520,909 421.7,883.3 228,832" fill="#7b7b7e"/>
<polygon points="15,800 143.5,800 143.5,863.7 15,900" fill="#ececed"/>
<polyline points="143.5,865.5 286,897.3 396.8,923.6 520,958" fill="none" stroke="#d5d5d7" stroke-width="2"/>
<polygon points="15,944 136,955 140,1110 15,1110" fill="#c3c4c6"/>
<polygon points="15,1040 125,1052 125,1110 15,1110" fill="#d9d9db"/>
<polygon points="319,1019.8 520,1064 520,1118 319,1078" fill="#e2e2e4"/>
<polygon points="319,1078 520,1118 520,1200 323,1140.6" fill="#eeeeef"/>
<line x1="319" y1="1078" x2="520" y2="1118" stroke="#cfcfd1" stroke-width="1.5"/>
<line x1="323" y1="1140.6" x2="520" y2="1200" stroke="#d9d9db" stroke-width="1.5"/>
<path d="M70,960 L95,1000 L88,1030 M95,1000 L125,1040" fill="none" stroke="#8f9092" stroke-width="1" opacity="0.7"/>
<path d="M372,1072 L368,1090 M372,1100 L392,1150 L405,1172" fill="none" stroke="#b5b5b7" stroke-width="1" opacity="0.8"/>
<path d="M22,1000 Q60,975 78,1010 Q92,1060 80,1110 Q70,1135 30,1130 Z" fill="#e6e8eb" opacity="0.8"/>
<path d="M44,988 Q80,986 85,1040 Q88,1090 74,1120" fill="none" stroke="#ffffff" stroke-width="3" opacity="0.95"/>
<path d="M28,1010 Q22,1060 32,1112" fill="none" stroke="#9a9c9f" stroke-width="4" opacity="0.6" filter="url(#b1)"/>
<ellipse cx="43" cy="999" rx="9" ry="4" fill="#4a4c50" opacity="0.85"/>
<ellipse cx="41" cy="998" rx="3" ry="1.6" fill="#cfe7f2"/>
<rect x="76.5" y="993" width="8.5" height="19" rx="4" fill="#18181a"/>
<rect x="118.5" y="1006" width="9" height="28" rx="4" fill="#141416"/>
<polygon points="15,1125 105,1102 200,1150 330,1204 367.4,1219.2 366.6,1236 283,1300 15,1310" fill="#19191b"/>
<polygon points="367.4,1220.5 366.6,1236.5 283,1298 255,1300 281,1278" fill="#39393c"/>
<polyline points="330,1204 367.4,1219.2 281,1277.5" fill="none" stroke="#4c4c50" stroke-width="2"/>
<polygon points="236,1270 330,1207 360,1220 283,1272 262,1290" fill="#242426"/>
<line x1="268.6" y1="1258.7" x2="297" y2="1265" stroke="#070708" stroke-width="4"/>
<line x1="294" y1="1239.7" x2="317.6" y2="1246" stroke="#070708" stroke-width="4"/>
<line x1="246.4" y1="1276" x2="268.6" y2="1284" stroke="#070708" stroke-width="4"/>
<line x1="30" y1="1160" x2="112" y2="1110" stroke="#2c2c2e" stroke-width="3.5"/>
<line x1="30" y1="1158.5" x2="112" y2="1108.5" stroke="#77777a" stroke-width="1" opacity="0.8"/>
<line x1="50" y1="1186" x2="112" y2="1148" stroke="#2c2c2e" stroke-width="3.5"/>
<line x1="50" y1="1184.5" x2="112" y2="1146.5" stroke="#77777a" stroke-width="1" opacity="0.8"/>
<line x1="60" y1="1205" x2="112" y2="1176" stroke="#2c2c2e" stroke-width="3.5"/>
<line x1="60" y1="1203.5" x2="112" y2="1174.5" stroke="#77777a" stroke-width="1" opacity="0.8"/>
<polygon points="167,1085 318.3,1000 318.3,1148 312,1156 190,1248 167,1254" fill="#1d1d1f"/>
<polygon points="216,1118 296,1066 296,1150 216,1204" fill="#2f2f32"/>
<polygon points="226,1124 288,1086 288,1146 226,1186" fill="#1b1b1d"/>
<polygon points="300,1012 318.3,1000 318.3,1148 300,1160" fill="#2a2a2d"/>
<path d="M112,1050 L167.5,1072 L167.5,1244 Q166,1255 156,1252 L122,1239 Q112,1235 112,1224 Z" fill="url(#hbody)"/>
<polygon points="194.4,1076.6 344,972 346,987 196,1096" fill="#232325"/>
<polygon points="196,1096 346,987 346,1000 197,1112" fill="#111113"/>
<polygon points="110.6,1044.3 194.4,1076.6 196,1096 168,1087 168,1080 111,1061" fill="#19191b"/>
<polygon points="168,1086 196,1096 197,1112 170,1104" fill="#0c0c0d"/>
<polygon points="110.6,1044.3 194.4,1076.6 344,972 262,948" fill="#262628"/>
<polygon points="121,1040 186,1066 322,970 266,953" fill="#0b0b0c"/>
<g clip-path="url(#utc)">
<g opacity="0.6" stroke="#d2d4d7" stroke-width="2.4" fill="none"><path d="M108,925 Q126,960 134,1010"/><path d="M115,921 Q132,958 140,1008"/><path d="M122,919 Q138,956 146,1006"/><path d="M129,918 Q144,954 152,1004"/></g>
<ellipse cx="158" cy="936" rx="17" ry="27.5" fill="url(#spoon2)" transform="rotate(-6 158 936)"/>
<path d="M150,914 Q144,938 153,959" fill="none" stroke="#3a3c40" stroke-width="2.2" opacity="0.7"/>
<path d="M158,962 L160,1010" stroke="#b5b8bc" stroke-width="5"/>
<path d="M185.7,953.2 Q188.3,920.6 205,884" fill="none" stroke="url(#chrome)" stroke-width="3" stroke-linecap="round"/>
<path d="M186.5,953.2 Q189.2,920.6 205.6,884" fill="none" stroke="#4a4d52" stroke-width="0.8" stroke-linecap="round" opacity="0.7"/>
<path d="M189.9,952.4 Q191.7,918.2 207.5,880" fill="none" stroke="url(#chrome)" stroke-width="3" stroke-linecap="round"/>
<path d="M190.7,952.4 Q192.5,918.2 208.1,880" fill="none" stroke="#4a4d52" stroke-width="0.8" stroke-linecap="round" opacity="0.7"/>
<path d="M194.1,952.4 Q195.1,916.2 210,876" fill="none" stroke="url(#chrome)" stroke-width="3" stroke-linecap="round"/>
<path d="M194.9,952.4 Q195.9,916.2 210.6,876" fill="none" stroke="#4a4d52" stroke-width="0.8" stroke-linecap="round" opacity="0.7"/>
<path d="M198.3,953.2 Q198.2,914.9 212,872.5" fill="none" stroke="url(#chrome)" stroke-width="3" stroke-linecap="round"/>
<path d="M199.1,953.2 Q199,914.9 212.6,872.5" fill="none" stroke="#4a4d52" stroke-width="0.8" stroke-linecap="round" opacity="0.7"/>
<path d="M183,946 Q182,978 196,972 Q208,964 203,942 Q193,950 183,946 Z" fill="#7e8186"/>
<path d="M186,956 Q192,972 200,958" fill="none" stroke="#2a2c30" stroke-width="3"/>
<path d="M192,972 L196,1040" stroke="#c2c5c9" stroke-width="5"/>
<path d="M226.4,927.2 Q225.2,893.1 240,851" fill="none" stroke="url(#chrome)" stroke-width="3" stroke-linecap="round"/>
<path d="M227.2,927.2 Q226,893.1 240.6,851" fill="none" stroke="#4a4d52" stroke-width="0.8" stroke-linecap="round" opacity="0.7"/>
<path d="M230.8,926.4 Q229.7,891 244.5,847.5" fill="none" stroke="url(#chrome)" stroke-width="3" stroke-linecap="round"/>
<path d="M231.6,926.4 Q230.5,891 245.1,847.5" fill="none" stroke="#4a4d52" stroke-width="0.8" stroke-linecap="round" opacity="0.7"/>
<path d="M235.2,926.4 Q234.3,889.2 249.5,844" fill="none" stroke="url(#chrome)" stroke-width="3" stroke-linecap="round"/>
<path d="M236,926.4 Q235.2,889.2 250.1,844" fill="none" stroke="#4a4d52" stroke-width="0.8" stroke-linecap="round" opacity="0.7"/>
<path d="M239.6,927.2 Q239.1,888.4 254.5,841.5" fill="none" stroke="url(#chrome)" stroke-width="3" stroke-linecap="round"/>
<path d="M240.4,927.2 Q239.9,888.4 255.1,841.5" fill="none" stroke="#4a4d52" stroke-width="0.8" stroke-linecap="round" opacity="0.7"/>
<path d="M224,918 Q224,948 238,941 Q249,932 245,910 Q234,920 224,918 Z" fill="#6d7075"/>
<path d="M228,926 Q234,942 242,926" fill="none" stroke="#24262a" stroke-width="3"/>
<ellipse cx="257" cy="917" rx="17.5" ry="51" fill="url(#spoon2)" transform="rotate(7 257 917)"/>
<path d="M259,868 Q286,905 266,962" fill="none" stroke="#5d9ec4" stroke-width="5.5" opacity="0.95"/>
<path d="M262,874 Q281,905 266,950" fill="none" stroke="#b8d8e8" stroke-width="1.5" opacity="0.9"/>
<path d="M250,880 Q240,915 250,952" fill="none" stroke="#303236" stroke-width="3" opacity="0.55"/>
<ellipse cx="254" cy="918" rx="7" ry="20" fill="#fafbfb" opacity="0.9" transform="rotate(7 254 918)"/>
<path d="M243,940 Q250,972 262,958 Q256,950 252,936 Z" fill="#2a2c30" opacity="0.8"/>
<path d="M195,1001.6 Q203.5,961.8 232,934" fill="none" stroke="url(#chrome)" stroke-width="3.2" stroke-linecap="round"/>
<path d="M195.8,1001.6 Q204.3,961.8 232.6,934" fill="none" stroke="#4a4d52" stroke-width="0.8" stroke-linecap="round" opacity="0.7"/>
<path d="M199.5,1000.8 Q207.8,959.9 236,931" fill="none" stroke="url(#chrome)" stroke-width="3.2" stroke-linecap="round"/>
<path d="M200.3,1000.8 Q208.6,959.9 236.6,931" fill="none" stroke="#4a4d52" stroke-width="0.8" stroke-linecap="round" opacity="0.7"/>
<path d="M204,1000 Q212,958 240,928" fill="none" stroke="url(#chrome)" stroke-width="3.2" stroke-linecap="round"/>
<path d="M204.8,1000 Q212.8,958 240.6,928" fill="none" stroke="#4a4d52" stroke-width="0.8" stroke-linecap="round" opacity="0.7"/>
<path d="M208.5,1000.8 Q215.8,957.4 243,926" fill="none" stroke="url(#chrome)" stroke-width="3.2" stroke-linecap="round"/>
<path d="M209.3,1000.8 Q216.6,957.4 243.6,926" fill="none" stroke="#4a4d52" stroke-width="0.8" stroke-linecap="round" opacity="0.7"/>
<path d="M213,1001.6 Q219.2,957.3 245.5,925" fill="none" stroke="url(#chrome)" stroke-width="3.2" stroke-linecap="round"/>
<path d="M213.8,1001.6 Q220.1,957.3 246.1,925" fill="none" stroke="#4a4d52" stroke-width="0.8" stroke-linecap="round" opacity="0.7"/>
<path d="M196,1000 Q204,1026 212,1046 L224,1044 Q221,1018 228,992 Q212,1004 196,1000 Z" fill="#9b9ea3"/>
<path d="M205,1004 L215,1038 L222,1000" fill="none" stroke="#232529" stroke-width="3"/>
<rect x="224" y="984" width="8" height="22" rx="3" fill="#d5d7da"/>
<rect x="223.5" y="996" width="9" height="3.5" fill="#1e1e20"/>
<rect x="235" y="978" width="8" height="22" rx="3" fill="#d5d7da"/>
<rect x="234.5" y="990" width="9" height="3.5" fill="#1e1e20"/>
<path d="M286.3,986 Q281,900 303,845 Q308,834 312,845 Q322,900 310,986 Z" fill="url(#knife)"/>
<path d="M302,984 Q300,900 315,838 Q320,826 324,838 Q330,905 316,980 Z" fill="url(#knife)"/>
<path d="M301,980 Q299,900 310,846" stroke="#ffffff" stroke-width="1.6" fill="none" opacity="0.9"/>
<ellipse cx="164" cy="1003" rx="30.5" ry="45" fill="url(#spoon)" transform="rotate(-7 164 1003)"/>
<path d="M141,975 Q128,1006 149,1038" fill="none" stroke="#26282c" stroke-width="3" opacity="0.5" filter="url(#b1)"/>
<path d="M176,966 Q194,990 188,1025" fill="none" stroke="#5a5d62" stroke-width="2" opacity="0.6" filter="url(#b1)"/>
<path d="M148,1036 Q158,1058 155,1068 L169,1066 Q168,1050 178,1032 Z" fill="#eef0f2"/>
<rect x="124" y="1032" width="8" height="18" rx="3" fill="#dcdee1"/>
<rect x="123.5" y="1042" width="9" height="3.5" fill="#1e1e20"/>
<rect x="182" y="1036" width="8" height="18" rx="3" fill="#dcdee1"/>
<rect x="181.5" y="1046" width="9" height="3.5" fill="#1e1e20"/>
<rect x="204" y="1028" width="8" height="18" rx="3" fill="#dcdee1"/>
<rect x="203.5" y="1038" width="9" height="3.5" fill="#1e1e20"/>
</g>
<polygon points="194.4,1076.6 344,972 322,970 186,1066" fill="#3a3a3d"/>
<polygon points="200,1066 334,972 344,972 194.4,1076.6" fill="#77777a" opacity="0.85"/>
<polygon points="110.6,1044.3 194.4,1076.6 186,1066 121,1040" fill="#2e2e31"/>
<polyline points="110.6,1044.3 194.4,1076.6 344,972" fill="none" stroke="#8a8a8d" stroke-width="1.2"/>
<polygon points="229.8,1165 311,1105 311,1156 320,1150 323,1190 232,1256" fill="#151517"/>
<line x1="298" y1="1060" x2="298" y2="1178" stroke="#0a0a0b" stroke-width="4"/>
<polygon points="232.2,1254 328.7,1184.4 329.5,1203.4 235.4,1270.5" fill="#2b2b2e"/>
<line x1="232.2" y1="1254" x2="328.7" y2="1184.4" stroke="#8c8c90" stroke-width="1.8"/>
<polygon points="150,1240 232.2,1254 235.4,1270.5 160,1262" fill="#29292b"/>
<line x1="150" y1="1240" x2="232.2" y2="1254" stroke="#77777a" stroke-width="1.4"/>
<polyline points="229.5,1246 229.5,1170 232,1164 238,1160 318,1099 322.5,1099 323,1104 321.5,1186" fill="none" stroke="#141416" stroke-width="7.5" stroke-linejoin="round" stroke-linecap="round"/>
<polyline points="234,1158.6 317,1095.6" fill="none" stroke="#a8a8ac" stroke-width="2" opacity="0.95"/>
<polyline points="227.6,1172 227.6,1244" fill="none" stroke="#6a6a6e" stroke-width="1.2" opacity="0.9"/>
<polyline points="319.6,1106 319.4,1182" fill="none" stroke="#6a6a6e" stroke-width="1.2" opacity="0.9"/>
<line x1="205" y1="1106" x2="205" y2="1250" stroke="#08080a" stroke-width="4.5"/>
<line x1="203.4" y1="1106" x2="203.4" y2="1250" stroke="#56565a" stroke-width="1"/>
<line x1="196" y1="1100" x2="196" y2="1246" stroke="#08080a" stroke-width="4.5"/>
<line x1="194.4" y1="1100" x2="194.4" y2="1246" stroke="#56565a" stroke-width="1"/>
<line x1="53.8" y1="1168.6" x2="53.8" y2="1190" stroke="#111113" stroke-width="5.5" stroke-linecap="round"/>
<path d="M49,1172.6 V1143.4 A4.8,4.8 0 0 1 58.6,1143.4 V1172.6 Z" fill="#232325"/>
<path d="M51.8,1168.6 V1143.6" stroke="#9a9a9e" stroke-width="1.7" fill="none" opacity="0.85"/>
<line x1="99" y1="1180.7" x2="99" y2="1227" stroke="#111113" stroke-width="5.5" stroke-linecap="round"/>
<path d="M94.2,1184.7 V1155.5 A4.8,4.8 0 0 1 103.8,1155.5 V1184.7 Z" fill="#232325"/>
<path d="M97,1180.7 V1155.7" stroke="#9a9a9e" stroke-width="1.7" fill="none" opacity="0.85"/>
<line x1="144.8" y1="1192.8" x2="144.8" y2="1256" stroke="#111113" stroke-width="5.5" stroke-linecap="round"/>
<path d="M140,1196.8 V1167.6 A4.8,4.8 0 0 1 149.6,1167.6 V1196.8 Z" fill="#232325"/>
<path d="M142.8,1192.8 V1167.8" stroke="#9a9a9e" stroke-width="1.7" fill="none" opacity="0.85"/>
<rect x="150.5" y="1153" width="9" height="26" rx="4.5" fill="#050506"/>
<line x1="155" y1="1175" x2="155" y2="1245" stroke="#0a0a0b" stroke-width="5"/>
</g>
<circle cx="262.5" cy="1054.5" r="241.0" fill="none" stroke="#2ab4d6" stroke-width="8"/>
<g clip-path="url(#cc3)"><rect x="939.5" y="805.5999999999999" width="492" height="492" fill="#ffffff"/>
<polygon points="1080,983.1 1440,864.3 1440,895.3 1080,1023.1" fill="#454547"/>
<line x1="1080" y1="984.1" x2="1440" y2="865.3" stroke="#29292b" stroke-width="3"/>
<line x1="1080" y1="988.1" x2="1440" y2="869.3" stroke="#5c5c5f" stroke-width="1.5" opacity="0.7"/>
<polyline points="1116,800 1116.6,900 1120.3,913.5 1387.4,1119" fill="none" stroke="#1d1d1f" stroke-width="9.5" stroke-linejoin="round" stroke-linecap="round"/>
<polyline points="1114.2,798 1114.8,898 1118.5,911.5 1385.6,1117" fill="none" stroke="#8c8c90" stroke-width="1.6" stroke-linejoin="round" stroke-linecap="round" opacity="0.6"/>
<polyline points="1189.5,800 1190,876 1192,889.5 1460,1096" fill="none" stroke="#1d1d1f" stroke-width="9.5" stroke-linejoin="round" stroke-linecap="round"/>
<polyline points="1187.7,798 1188.2,874 1190.2,887.5 1458.2,1094" fill="none" stroke="#8c8c90" stroke-width="1.6" stroke-linejoin="round" stroke-linecap="round" opacity="0.6"/>
<polyline points="1260,800 1260.4,852 1262.5,866 1470,1026" fill="none" stroke="#1d1d1f" stroke-width="9.5" stroke-linejoin="round" stroke-linecap="round"/>
<polyline points="1258.2,798 1258.6,850 1260.7,864 1468.2,1024" fill="none" stroke="#8c8c90" stroke-width="1.6" stroke-linejoin="round" stroke-linecap="round" opacity="0.6"/>
<polygon points="1238.5,1119 1440,1055.5 1440,1083.5 1239.5,1158" fill="url(#c3fb)"/>
<line x1="1238.5" y1="1120.5" x2="1440" y2="1057" stroke="#232325" stroke-width="3"/>
<polyline points="1387.4,1119 1388.6,1000" fill="none" stroke="#1d1d1f" stroke-width="10" stroke-linejoin="round" stroke-linecap="round"/>
<polyline points="1385.6,1117 1386.8,998" fill="none" stroke="#8c8c90" stroke-width="1.6" stroke-linejoin="round" stroke-linecap="round" opacity="0.6"/>
<path d="M1379.8,1004.8 V969 A9,9 0 0 1 1397.8,969 V1004.8 Z" fill="#2a2a2c"/>
<path d="M1384,1000 V968" stroke="#85858a" stroke-width="2" opacity="0.6" fill="none"/>
<polygon points="1070.6,990.5 1238.5,1119 1239.5,1158 1070.6,1022" fill="url(#c3lb)" stroke="#454547" stroke-width="2" stroke-linejoin="round"/>
<line x1="1072.6" y1="992.5" x2="1238.5" y2="1121" stroke="#1f1f21" stroke-width="3.4"/>
<line x1="1240.5" y1="1121" x2="1241.5" y2="1157" stroke="#8a8a8e" stroke-width="4" opacity="0.55"/>
<polyline points="1083,991 1082.6,856 1084.5,848 1092,847.5 1236,955 1244,963.5 1246,1119" fill="none" stroke="#1d1d1f" stroke-width="12.5" stroke-linejoin="round" stroke-linecap="round"/>
<polyline points="1081.4,989 1081,854 1082.9,846 1090.4,845.5 1234.4,953 1242.4,961.5 1244.4,1117" fill="none" stroke="#8c8c90" stroke-width="2.2" stroke-linejoin="round" stroke-linecap="round" opacity="0.6"/>
<line x1="1082.7" y1="858" x2="1082.9" y2="882" stroke="#242426" stroke-width="16.5"/>
<line x1="1245" y1="970" x2="1245.4" y2="1011" stroke="#242426" stroke-width="18"/>
<line x1="1078" y1="860" x2="1078.2" y2="880" stroke="#7d7d82" stroke-width="2" opacity="0.6"/>
<line x1="1239.5" y1="974" x2="1240" y2="1008" stroke="#7d7d82" stroke-width="2.2" opacity="0.6"/>
<line x1="1092" y1="843" x2="1238" y2="952" stroke="#77777b" stroke-width="2" opacity="0.6"/>
<polyline points="1084.3,1024 1085.5,1050 1081,1058 1066,1061 1059,1068 1059,1080 1063,1086 1268,1246 1277,1250 1283,1244 1281,1234 1248.5,1184 1246.4,1160" fill="none" stroke="#1d1d1f" stroke-width="9.2" stroke-linejoin="round" stroke-linecap="round"/>
<polyline points="1082.5,1022 1083.7,1048 1079.2,1056 1064.2,1059 1057.2,1066 1057.2,1078 1061.2,1084 1266.2,1244 1275.2,1248 1281.2,1242 1279.2,1232 1246.7,1182 1244.6,1158" fill="none" stroke="#8c8c90" stroke-width="1.6" stroke-linejoin="round" stroke-linecap="round" opacity="0.6"/>
</g>
<circle cx="1185.5" cy="1051.6" r="242.0" fill="none" stroke="#2ab4d6" stroke-width="8"/>
<g clip-path="url(#cc2)"><rect x="485.3" y="800.5999999999999" width="490.4" height="490.4" fill="#1a1a1c"/>
<rect x="480" y="795" width="500" height="500" fill="#a9ddee"/>
<polygon points="480,900 540,900 560,1010 480,1100" fill="#eef3f5"/>
<rect x="900" y="860" width="90" height="170" fill="#2a7cb8"/>
<path d="M871,800 C891,791.7 907.2,833.3 920,850 C932.8,866.7 942.7,886.7 948,900 C953.3,913.3 952.5,920 952,930 C951.5,940 948.7,950.3 945,960 C941.3,969.7 935.5,980 930,988 C924.5,996 920.3,999.3 912,1008 C903.7,1016.7 892,1033 880,1040 C868,1047 853.3,1073.3 840,1050 C826.7,1026.7 794.8,941.7 800,900 C805.2,858.3 851,808.3 871,800 Z" fill="url(#pl3)"/>
<path d="M953,922 Q946,972 912,1008" fill="none" stroke="#efe6d2" stroke-width="3"/>
<path d="M950.5,921 Q943.5,971 910,1006" fill="none" stroke="#3a2a10" stroke-width="1.2" opacity="0.7"/>
<path d="M820,800 C837,789.7 852.8,823.8 862,838 C871.2,852.2 872.5,869.7 875,885 C877.5,900.3 878,915.8 877,930 C876,944.2 872.7,957.5 869,970 C865.3,982.5 861.2,992.5 855,1005 C848.8,1017.5 842.8,1035.8 832,1045 C821.2,1054.2 802,1084.2 790,1060 C778,1035.8 755,943.3 760,900 C765,856.7 803,810.3 820,800 Z" fill="url(#pl2)"/>
<path d="M862,838 Q897,930 846,1022" fill="none" stroke="#f6efe0" stroke-width="3.2"/>
<path d="M864.6,838 Q899.6,930 848.4,1023" fill="none" stroke="#3a2a10" stroke-width="1.2" opacity="0.8"/>
<polygon points="480,955 520,940 720,1090 800,1050 990,960 990,1300 480,1300" fill="#151517"/>
<polygon points="480,985 545,1030 600,1085 720,1112 990,975 990,1300 480,1300" fill="#1e1e20"/>
<path d="M521.3,932.9 C526.6,950.5 530.8,955.6 536.9,965.7 C543,975.8 550.2,982.4 557.7,993.4 C565.2,1004.4 572.1,1019.7 581.9,1031.5 C591.7,1043.3 603.8,1055.2 616.5,1064.4 C629.2,1073.6 643.9,1081.7 658,1086.9 C672.1,1092.1 688.3,1095.7 701.3,1095.5 C714.3,1095.3 724.9,1091.8 736,1086 C747.1,1080.2 758.5,1071.2 768,1061 C777.5,1050.8 786.5,1039.3 793,1025 C799.5,1010.7 803.5,992.3 807,975 C810.5,957.7 813.3,939 814,921 C814.7,903 814.5,884.3 811,867 C807.5,849.7 804.8,834.8 793,817 C781.2,799.2 765.5,772.8 740,760 C714.5,747.2 673.3,735 640,740 C606.7,745 562.5,770 540,790 C517.5,810 508.1,836.2 505,860 C501.9,883.8 516,915.3 521.3,932.9 Z" fill="url(#pl1)"/>
<path d="M789.7,815.8 C806,864 816,916 812,961 C809,1000 800,1020 790,1040" fill="none" stroke="#f6efdf" stroke-width="3.2"/>
<path d="M792.4,815.2 C808.7,864 818.7,916 814.7,961 C811.7,1000 802.7,1020 792.7,1041" fill="none" stroke="#3a2a10" stroke-width="1.2" opacity="0.75"/>
<path d="M521,930 Q535,975 556,1003" fill="none" stroke="#d9c9a0" stroke-width="1.6"/>
<g filter="url(#soft)" opacity="0.55"><polygon points="600,830 690,815 735,870 760,960 700,900 640,880" fill="#c4e9f5"/><polygon points="560,900 610,960 680,1010 640,1040 580,990" fill="#92d2ea"/></g>
<polygon points="488,912 521.3,932.9 531,953 508.8,953.2 488,942" fill="#eef1f3"/>
<polygon points="545,1195 826,1056 990,975 990,992 832,1072 552,1214" fill="#37373a"/>
<polygon points="552,1214 832,1072 990,992 990,1022 836,1100 556,1242" fill="#0b0b0d"/>
<line x1="590" y1="1174" x2="722" y2="1108" stroke="#8a8a8e" stroke-width="2.2" stroke-linecap="round" opacity="0.8"/>
<line x1="560" y1="1216" x2="700" y2="1146" stroke="#4a4a4e" stroke-width="1.6" stroke-linecap="round" opacity="0.8"/>
<line x1="850" y1="1118.6" x2="964" y2="1065" stroke="#3c3c40" stroke-width="2.4" stroke-linecap="round"/>
<line x1="757" y1="1222" x2="940" y2="1134" stroke="#3c3c40" stroke-width="2.4" stroke-linecap="round"/>
<line x1="674" y1="1269" x2="733" y2="1238" stroke="#3c3c40" stroke-width="2.4" stroke-linecap="round"/>
<line x1="608" y1="1230" x2="826" y2="1131" stroke="#3c3c40" stroke-width="2.4" stroke-linecap="round"/>
<polygon points="600,1300 673.8,1276 964.4,1134.2 990,1122 990,1300" fill="#2c2c2f"/>
<polygon points="700,1300 964.4,1160 990,1148 990,1300" fill="#353538"/>
<polygon points="740,1300 774,1279.5 912.5,1213.8 990,1175 990,1300" fill="#dedede"/>
<polygon points="480,1100 497,1090 500,1130 480,1150" fill="#e6e8ea"/>
<line x1="508.8" y1="953.2" x2="713.6" y2="1095.1" stroke="#0c0c0e" stroke-width="9" stroke-linecap="round"/>
<line x1="510.3" y1="950.6" x2="715.1" y2="1092.5" stroke="#4a4a4e" stroke-width="1.4" stroke-linecap="round" opacity="0.8"/>
<line x1="494.4" y1="1014.3" x2="660" y2="1130.7" stroke="#0c0c0e" stroke-width="8.5" stroke-linecap="round"/>
<line x1="495.9" y1="1011.7" x2="661.5" y2="1128.1" stroke="#4a4a4e" stroke-width="1.4" stroke-linecap="round" opacity="0.8"/>
<line x1="660" y1="1130.7" x2="717" y2="1163.6" stroke="#0c0c0e" stroke-width="8.5" stroke-linecap="round"/>
<line x1="661.5" y1="1128.1" x2="718.5" y2="1161" stroke="#4a4a4e" stroke-width="1.4" stroke-linecap="round" opacity="0.8"/>
<line x1="494.4" y1="1082.6" x2="594.2" y2="1158.4" stroke="#0c0c0e" stroke-width="8.5" stroke-linecap="round"/>
<line x1="495.9" y1="1080" x2="595.7" y2="1155.8" stroke="#4a4a4e" stroke-width="1.4" stroke-linecap="round" opacity="0.8"/>
<line x1="594.2" y1="1158.4" x2="652" y2="1196.5" stroke="#0c0c0e" stroke-width="8.5" stroke-linecap="round"/>
<line x1="595.7" y1="1155.8" x2="653.5" y2="1193.9" stroke="#4a4a4e" stroke-width="1.4" stroke-linecap="round" opacity="0.8"/>
<line x1="500" y1="1150" x2="540" y2="1180" stroke="#0c0c0e" stroke-width="8" stroke-linecap="round"/>
<line x1="501.5" y1="1147.4" x2="541.5" y2="1177.4" stroke="#4a4a4e" stroke-width="1.4" stroke-linecap="round" opacity="0.8"/>
<line x1="540" y1="1180" x2="587.3" y2="1227.6" stroke="#0c0c0e" stroke-width="8" stroke-linecap="round"/>
<line x1="541.5" y1="1177.4" x2="588.8" y2="1225" stroke="#4a4a4e" stroke-width="1.4" stroke-linecap="round" opacity="0.8"/>
<line x1="729" y1="1101.3" x2="780.3" y2="1132.5" stroke="#0c0c0e" stroke-width="8.5" stroke-linecap="round"/>
<line x1="730.5" y1="1098.7" x2="781.8" y2="1129.9" stroke="#4a4a4e" stroke-width="1.4" stroke-linecap="round" opacity="0.8"/>
<line x1="791.4" y1="1071.9" x2="841.6" y2="1103" stroke="#0c0c0e" stroke-width="8.5" stroke-linecap="round"/>
<line x1="792.9" y1="1069.3" x2="843.1" y2="1100.4" stroke="#4a4a4e" stroke-width="1.4" stroke-linecap="round" opacity="0.8"/>
<line x1="853.7" y1="1040.8" x2="903.9" y2="1071.9" stroke="#0c0c0e" stroke-width="8.5" stroke-linecap="round"/>
<line x1="855.2" y1="1038.2" x2="905.4" y2="1069.3" stroke="#4a4a4e" stroke-width="1.4" stroke-linecap="round" opacity="0.8"/>
<line x1="917" y1="1010" x2="966" y2="1040" stroke="#0c0c0e" stroke-width="8.5" stroke-linecap="round"/>
<line x1="918.5" y1="1007.4" x2="967.5" y2="1037.4" stroke="#4a4a4e" stroke-width="1.4" stroke-linecap="round" opacity="0.8"/>
<line x1="500" y1="1065" x2="560" y2="1035" stroke="#0c0c0e" stroke-width="5" stroke-linecap="round"/>
<line x1="540" y1="1130" x2="640" y2="1080" stroke="#0c0c0e" stroke-width="5" stroke-linecap="round"/>
<line x1="969" y1="952" x2="966" y2="1042" stroke="#101012" stroke-width="10.5" stroke-linecap="round"/>
<line x1="966.5" y1="958" x2="963.5" y2="1038" stroke="#5a5a5e" stroke-width="2.2" stroke-linecap="round"/>
<path d="M959,952 V916 A10,10 0 0 1 979,916 V952 L974.2,958 H963.8 Z" fill="#161618"/>
<path d="M963.5,948 V914" stroke="#8d8d92" stroke-width="3.2" stroke-linecap="round" opacity="0.8" fill="none"/>
<ellipse cx="967" cy="912.5" rx="4" ry="3" fill="#c9c9cc" opacity="0.75"/>
<line x1="907.3" y1="981.1" x2="903.9" y2="1071.9" stroke="#101012" stroke-width="10.5" stroke-linecap="round"/>
<line x1="904.8" y1="987.1" x2="901.4" y2="1067.9" stroke="#5a5a5e" stroke-width="2.2" stroke-linecap="round"/>
<path d="M897.3,981.1 V945.1 A10,10 0 0 1 917.3,945.1 V981.1 L912.5,987.1 H902 Z" fill="#161618"/>
<path d="M901.8,977.1 V943.1" stroke="#8d8d92" stroke-width="3.2" stroke-linecap="round" opacity="0.8" fill="none"/>
<ellipse cx="905.3" cy="941.6" rx="4" ry="3" fill="#c9c9cc" opacity="0.75"/>
<line x1="845" y1="1010.6" x2="841.6" y2="1103" stroke="#101012" stroke-width="10.5" stroke-linecap="round"/>
<line x1="842.5" y1="1016.6" x2="839.1" y2="1099" stroke="#5a5a5e" stroke-width="2.2" stroke-linecap="round"/>
<path d="M835,1010.6 V974.6 A10,10 0 0 1 855,974.6 V1010.6 L850.2,1016.6 H839.8 Z" fill="#161618"/>
<path d="M839.5,1006.6 V972.6" stroke="#8d8d92" stroke-width="3.2" stroke-linecap="round" opacity="0.8" fill="none"/>
<ellipse cx="843" cy="971.1" rx="4" ry="3" fill="#c9c9cc" opacity="0.75"/>
<path d="M772.6,1040 V1004 A10,10 0 0 1 792.6,1004 V1040 L787.9,1046 H777.4 Z" fill="none" stroke="#5fe6ff" stroke-width="9" filter="url(#glow)"/>
<path d="M772.6,1040 V1004 A10,10 0 0 1 792.6,1004 V1040 L787.9,1046 H777.4 Z" fill="none" stroke="#bff6ff" stroke-width="4" filter="url(#glow2)"/>
<line x1="782.6" y1="1040" x2="780.3" y2="1132.5" stroke="#101012" stroke-width="10.5" stroke-linecap="round"/>
<line x1="780.1" y1="1046" x2="777.8" y2="1128.5" stroke="#5a5a5e" stroke-width="2.2" stroke-linecap="round"/>
<path d="M772.6,1040 V1004 A10,10 0 0 1 792.6,1004 V1040 L787.9,1046 H777.4 Z" fill="#161618"/>
<path d="M777.1,1036 V1002" stroke="#8d8d92" stroke-width="3.2" stroke-linecap="round" opacity="0.8" fill="none"/>
<ellipse cx="780.6" cy="1000.5" rx="4" ry="3" fill="#c9c9cc" opacity="0.75"/>
<path d="M708.8,1071.2 V1035.2 A10,10 0 0 1 728.8,1035.2 V1071.2 L724,1077.2 H713.5 Z" fill="none" stroke="#5fe6ff" stroke-width="9" filter="url(#glow)"/>
<path d="M708.8,1071.2 V1035.2 A10,10 0 0 1 728.8,1035.2 V1071.2 L724,1077.2 H713.5 Z" fill="none" stroke="#bff6ff" stroke-width="4" filter="url(#glow2)"/>
<line x1="718.8" y1="1071.2" x2="717" y2="1163.6" stroke="#101012" stroke-width="10.5" stroke-linecap="round"/>
<line x1="716.3" y1="1077.2" x2="714.5" y2="1159.6" stroke="#5a5a5e" stroke-width="2.2" stroke-linecap="round"/>
<path d="M708.8,1071.2 V1035.2 A10,10 0 0 1 728.8,1035.2 V1071.2 L724,1077.2 H713.5 Z" fill="#161618"/>
<path d="M713.3,1067.2 V1033.2" stroke="#8d8d92" stroke-width="3.2" stroke-linecap="round" opacity="0.8" fill="none"/>
<ellipse cx="716.8" cy="1031.7" rx="4" ry="3" fill="#c9c9cc" opacity="0.75"/>
<line x1="652" y1="1103.4" x2="652" y2="1196.5" stroke="#101012" stroke-width="10.5" stroke-linecap="round"/>
<line x1="649.5" y1="1109.4" x2="649.5" y2="1192.5" stroke="#5a5a5e" stroke-width="2.2" stroke-linecap="round"/>
<path d="M642,1103.4 V1067.4 A10,10 0 0 1 662,1067.4 V1103.4 L657.2,1109.4 H646.8 Z" fill="#161618"/>
<path d="M646.5,1099.4 V1065.4" stroke="#8d8d92" stroke-width="3.2" stroke-linecap="round" opacity="0.8" fill="none"/>
<ellipse cx="650" cy="1063.9" rx="4" ry="3" fill="#c9c9cc" opacity="0.75"/>
<line x1="585.5" y1="1135.2" x2="587.3" y2="1227.6" stroke="#101012" stroke-width="10.5" stroke-linecap="round"/>
<line x1="583" y1="1141.2" x2="584.8" y2="1223.6" stroke="#5a5a5e" stroke-width="2.2" stroke-linecap="round"/>
<path d="M575.5,1135.2 V1099.2 A10,10 0 0 1 595.5,1099.2 V1135.2 L590.8,1141.2 H580.2 Z" fill="#161618"/>
<path d="M580,1131.2 V1097.2" stroke="#8d8d92" stroke-width="3.2" stroke-linecap="round" opacity="0.8" fill="none"/>
<ellipse cx="583.5" cy="1095.7" rx="4" ry="3" fill="#c9c9cc" opacity="0.75"/>
<line x1="518" y1="1166.3" x2="521.5" y2="1258" stroke="#101012" stroke-width="10.5" stroke-linecap="round"/>
<line x1="515.5" y1="1172.3" x2="519" y2="1254" stroke="#5a5a5e" stroke-width="2.2" stroke-linecap="round"/>
<path d="M508,1166.3 V1130.3 A10,10 0 0 1 528,1130.3 V1166.3 L523.2,1172.3 H512.8 Z" fill="#161618"/>
<path d="M512.5,1162.3 V1128.3" stroke="#8d8d92" stroke-width="3.2" stroke-linecap="round" opacity="0.8" fill="none"/>
<ellipse cx="516" cy="1126.8" rx="4" ry="3" fill="#c9c9cc" opacity="0.75"/>
</g>
<circle cx="730.5" cy="1045.8" r="241.2" fill="none" stroke="#2ab4d6" stroke-width="8"/>
</svg>
</body></html>
